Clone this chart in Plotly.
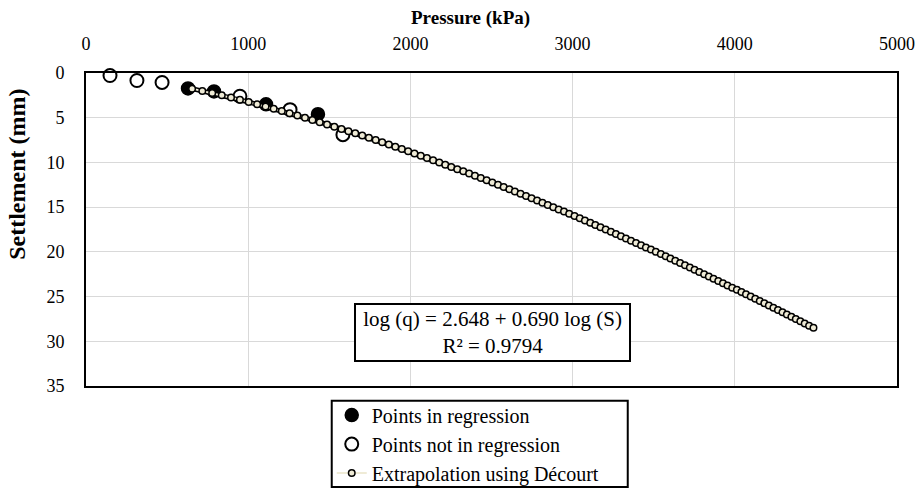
import plotly.graph_objects as go

# Points used in the regression (pressure kPa, settlement mm)
reg_pressure = [629, 789, 1110, 1430]
reg_settlement = [1.73, 2.06, 3.5, 4.6]

# Points not used in the regression
nonreg_pressure = [148, 314, 469, 949, 1258, 1584]
nonreg_settlement = [0.28, 0.84, 1.06, 2.6, 4.1, 6.9]

# Extrapolation using Décourt (read along the plotted chain of markers)
ext_settlement = [1.75, 2.0, 2.25, 2.5, 2.75, 3.0, 3.25, 3.5, 3.75, 4.0,
                  4.25, 4.5, 4.75, 5.0, 5.25, 5.5, 5.75, 6.0, 6.25, 6.5,
                  6.75, 7.0, 7.25, 7.5, 7.75, 8.0, 8.25, 8.5, 8.75, 9.0,
                  9.25, 9.5, 9.75, 10.0, 10.25, 10.5, 10.75, 11.0, 11.25, 11.5,
                  11.75, 12.0, 12.25, 12.5, 12.75, 13.0, 13.25, 13.5, 13.75, 14.0,
                  14.25, 14.5, 14.75, 15.0, 15.25, 15.5, 15.75, 16.0, 16.25, 16.5,
                  16.75, 17.0, 17.25, 17.5, 17.75, 18.0, 18.25, 18.5, 18.75, 19.0,
                  19.25, 19.5, 19.75, 20.0, 20.25, 20.5, 20.75, 21.0, 21.25, 21.5,
                  21.75, 22.0, 22.25, 22.5, 22.75, 23.0, 23.25, 23.5, 23.75, 24.0,
                  24.25, 24.5, 24.75, 25.0, 25.25, 25.5, 25.75, 26.0, 26.25, 26.5,
                  26.75, 27.0, 27.25, 27.5, 27.75, 28.0, 28.25, 28.5]
ext_pressure = [654, 717, 778, 837, 894, 949, 1003, 1055, 1107, 1157,
                1207, 1255, 1303, 1350, 1396, 1441, 1486, 1531, 1575, 1618,
                1660, 1703, 1744, 1786, 1826, 1867, 1907, 1947, 1986, 2025,
                2064, 2102, 2140, 2178, 2215, 2252, 2289, 2326, 2362, 2398,
                2434, 2470, 2505, 2540, 2575, 2610, 2644, 2679, 2713, 2747,
                2781, 2814, 2847, 2881, 2914, 2947, 2979, 3012, 3044, 3076,
                3109, 3140, 3172, 3204, 3236, 3267, 3298, 3329, 3360, 3391,
                3422, 3452, 3483, 3513, 3544, 3574, 3603, 3633, 3663, 3693,
                3723, 3752, 3781, 3811, 3840, 3869, 3898, 3927, 3955, 3984,
                4013, 4041, 4069, 4098, 4126, 4154, 4182, 4210, 4238, 4266,
                4294, 4321, 4349, 4376, 4404, 4431, 4458, 4485]

x_ticks = [0, 1000, 2000, 3000, 4000, 5000]
y_ticks = [0, 5, 10, 15, 20, 25, 30, 35]

x_title = "<b>Pressure (kPa)</b>"
y_title = "<b>Settlement (mm)</b>"
equation_text = "\u00a0log (q) = 2.648 + 0.690 log (S)\u00a0<br>R² = 0.9794"

SERIF = "Liberation Serif"
CREAM = "#efebd6"

fig = go.Figure()
fig.add_trace(go.Scatter(
    x=reg_pressure, y=reg_settlement, mode="markers",
    name="Points in regression",
    marker=dict(symbol="circle", size=13, color="black",
                line=dict(color="black", width=1.5)),
    cliponaxis=False,
))
fig.add_trace(go.Scatter(
    x=nonreg_pressure, y=nonreg_settlement, mode="markers",
    name="Points not in regression",
    marker=dict(symbol="circle", size=13, color="white",
                line=dict(color="black", width=2)),
    cliponaxis=False,
))
# dark outline under the extrapolation chain
fig.add_trace(go.Scatter(
    x=ext_pressure, y=ext_settlement, mode="lines",
    line=dict(color="black", width=5),
    showlegend=False, hoverinfo="skip",
))
fig.add_trace(go.Scatter(
    x=ext_pressure, y=ext_settlement, mode="lines+markers",
    name="Extrapolation using Décourt",
    line=dict(color=CREAM, width=2),
    marker=dict(symbol="circle", size=6.5, color=CREAM,
                line=dict(color="black", width=1.5)),
    cliponaxis=False,
))

fig.update_layout(
    width=923, height=489,
    margin=dict(l=86, r=26, t=73, b=103, autoexpand=False),
    paper_bgcolor="white", plot_bgcolor="white",
    font=dict(family=SERIF, color="black", size=18),
    showlegend=True,
    legend=dict(
        x=0.303, y=0.191, xref="paper", yref="container",
        xanchor="left", yanchor="top",
        borderwidth=0, bgcolor="rgba(0,0,0,0)",
        font=dict(family=SERIF, size=20, color="black"),
        tracegroupgap=0, itemwidth=30,
    ),
    shapes=[dict(
        type="rect", xref="paper", yref="paper",
        x0=0.303, x1=0.668, y0=-0.3227, y1=-0.047,
        line=dict(color="black", width=2), fillcolor="rgba(0,0,0,0)",
        layer="below",
    )],
    annotations=[
        dict(
            x=0.501, y=0.171, xref="paper", yref="paper",
            xanchor="center", yanchor="middle",
            text=equation_text, showarrow=False, align="center",
            font=dict(family=SERIF, size=21, color="black"),
            bordercolor="black", borderwidth=2, borderpad=2, bgcolor="white",
        ),
        dict(
            x=0.4735, y=1.176, xref="paper", yref="paper",
            text=x_title, showarrow=False, xanchor="center", yanchor="middle",
            font=dict(family=SERIF, size=19, color="black"),
        ),
        dict(
            x=-0.085, y=0.675, xref="paper", yref="paper",
            text=y_title, showarrow=False, textangle=-90,
            xanchor="center", yanchor="middle",
            font=dict(family=SERIF, size=24, color="black"),
        ),
    ],
)

fig.update_xaxes(
    side="top", range=[0, 5000], tickvals=x_ticks,
    ticktext=[str(v) for v in x_ticks],
    showgrid=True, gridcolor="#d9d9d9", gridwidth=1,
    showline=True, linecolor="black", linewidth=2, mirror=True,
    ticks="", ticklabelstandoff=14, zeroline=False,
    tickfont=dict(family=SERIF, size=18, color="black"),
)
fig.update_yaxes(
    range=[35, 0], tickvals=y_ticks,
    ticktext=[str(v) for v in y_ticks],
    showgrid=True, gridcolor="#d9d9d9", gridwidth=1,
    showline=True, linecolor="black", linewidth=2, mirror=True,
    ticks="", ticklabelstandoff=16, zeroline=False,
    tickfont=dict(family=SERIF, size=18, color="black"),
)

fig.write_html("out.html")
